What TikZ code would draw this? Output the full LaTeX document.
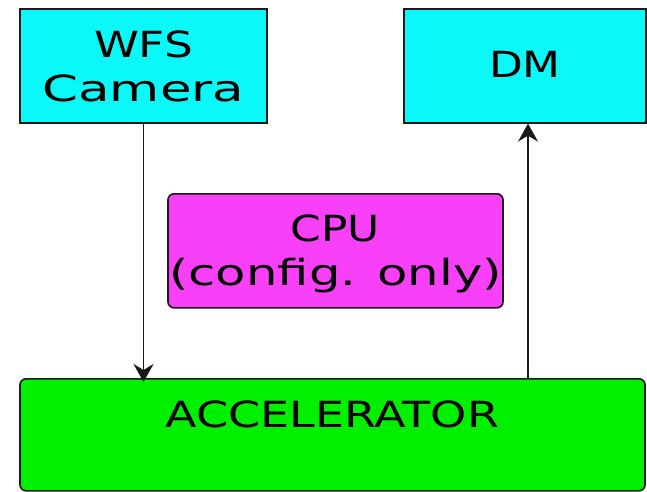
\documentclass[tikz,border=0pt]{standalone}
\usepackage{fontspec}
\setmainfont{DejaVu Sans}
\usetikzlibrary{arrows.meta}
\definecolor{boxcyan}{RGB}{10,248,248}
\definecolor{boxmag}{RGB}{248,64,248}
\definecolor{boxgreen}{RGB}{0,240,0}
\definecolor{edge}{RGB}{25,25,25}
\tikzset{
  blk/.style={draw=edge, line width=1.6pt, inner ysep=0pt, inner xsep=0pt,
    align=center, anchor=north,
    font=\fontsize{36}{44}\selectfont},
  sqbox/.style={blk, fill=boxcyan},
  cpubox/.style={blk, fill=boxmag, rounded corners=6pt},
  accbox/.style={blk, fill=boxgreen, rounded corners=6pt},
  arr/.style={draw=edge, line width=1.6pt,
    -{Stealth[length=18pt, width=20pt, inset=6pt]}}
}
\begin{document}
\begin{tikzpicture}[x=1pt, y=-1pt]
\useasboundingbox (0,0) rectangle (647,491);
\node[sqbox, minimum width=247pt, text height=93pt, text depth=21pt] (wfs) at (143.5,8)
  {\scalebox{1.26}[1]{WFS}\\\scalebox{1.43}[1]{Camera}};
\node[sqbox, minimum width=242pt, text height=69pt, text depth=45pt] (dm) at (525,8)
  {\scalebox{1.22}[1]{DM}};
\node[cpubox, minimum width=335pt, text height=92pt, text depth=22pt] (cpu) at (335.5,193)
  {\scalebox{1.22}[1]{CPU}\\\scalebox{1.38}[1]{(config. only)}};
\node[accbox, minimum width=625pt, text height=49pt, text depth=63pt] (acc) at (332.5,378)
  {\scalebox{1.28}[1]{ACCELERATOR}};
\coordinate (dmin) at ([xshift=3pt]dm.south);
\draw[arr] (wfs.south) -- ([yshift=-4pt]wfs.south |- acc.north);
\draw[arr] (dmin |- acc.north) -- (dmin);
\end{tikzpicture}
\end{document}
